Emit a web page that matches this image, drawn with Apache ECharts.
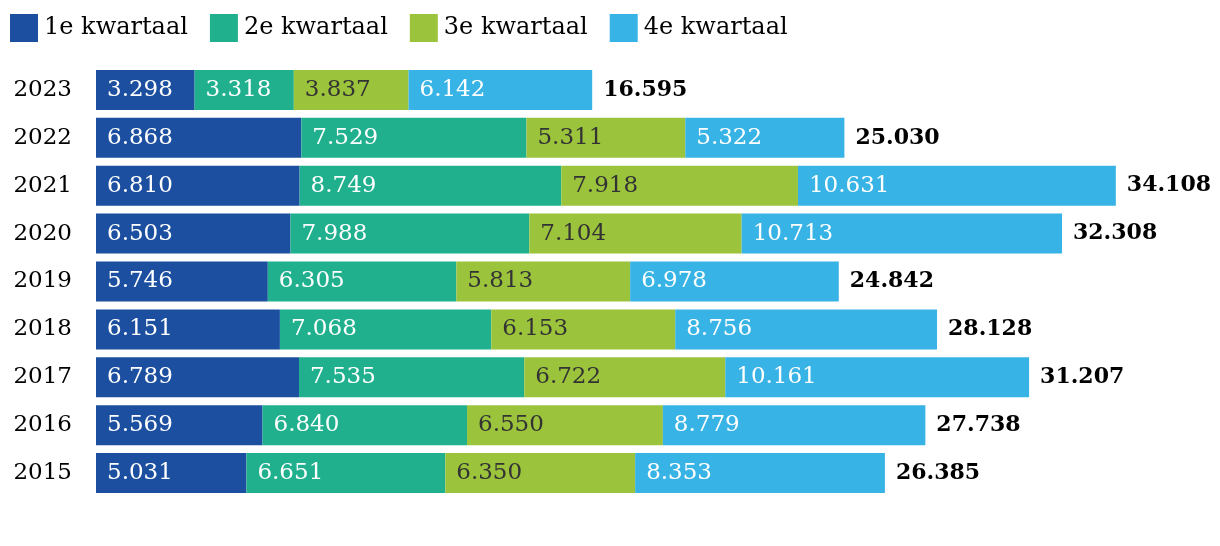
<!DOCTYPE html>
<html>
<head>
<meta charset="utf-8">
<script src="https://cdn.jsdelivr.net/npm/echarts@6/dist/echarts.min.js"></script>
<style>
html,body{margin:0;padding:0;background:#fff;}
#chart{width:1220px;height:546px;}
</style>
</head>
<body>
<div id="chart"></div>
<script>
const years = ['2015','2016','2017','2018','2019','2020','2021','2022','2023'];
const q1 = [5031, 5569, 6789, 6151, 5746, 6503, 6810, 6868, 3298];
const q2 = [6651, 6840, 7535, 7068, 6305, 7988, 8749, 7529, 3318];
const q3 = [6350, 6550, 6722, 6153, 5813, 7104, 7918, 5311, 3837];
const q4 = [8353, 8779, 10161, 8756, 6978, 10713, 10631, 5322, 6142];
const totals = [26385, 27738, 31207, 28128, 24842, 32308, 34108, 25030, 16595];
const seriesNames = ['1e kwartaal', '2e kwartaal', '3e kwartaal', '4e kwartaal'];
const colors = ['#1c4f9f', '#20b08e', '#9bc33c', '#38b3e5'];
const labelColors = ['#ffffff', '#ffffff', '#333333', '#ffffff'];

const FONT = 'DejaVu Serif';
const fmtDots = v => String(v).replace(/\B(?=(\d{3})+(?!\d))/g, '.');

const chart = echarts.init(document.getElementById('chart'));
const dataSets = [q1, q2, q3, q4];
const series = dataSets.map((d, i) => ({
  name: seriesNames[i],
  type: 'bar',
  stack: 'total',
  barWidth: 40,
  data: d,
  itemStyle: { color: colors[i] },
  label: {
    show: true,
    position: 'insideLeft',
    distance: 11,
    color: labelColors[i],
    fontFamily: FONT,
    fontSize: 23,
    formatter: p => fmtDots(p.value)
  },
  emphasis: { disabled: true }
}));
series.push({
  name: 'totaal',
  type: 'bar',
  stack: 'total',
  barWidth: 40,
  data: totals.map(() => 0),
  itemStyle: { color: 'transparent' },
  label: {
    show: true,
    position: 'right',
    distance: 11,
    color: '#000000',
    fontFamily: FONT,
    fontWeight: 'bold',
    fontSize: 22,
    formatter: p => fmtDots(totals[p.dataIndex])
  },
  emphasis: { disabled: true }
});

chart.setOption({
  animation: false,
  legend: {
    data: seriesNames,
    left: 5,
    top: 9,
    itemWidth: 28,
    itemHeight: 28,
    itemGap: 22,
    icon: 'rect',
    textStyle: { fontFamily: FONT, fontSize: 24, color: '#000000', padding: [0, 0, 0, 1] }
  },
  grid: { left: 96, top: 66, height: 431, width: 1076.4, containLabel: false },
  xAxis: {
    type: 'value',
    min: 0,
    max: 36000,
    show: false
  },
  yAxis: {
    type: 'category',
    data: years,
    axisLine: { show: false },
    axisTick: { show: false },
    axisLabel: { margin: 24, color: '#000000', fontFamily: FONT, fontSize: 23 }
  },
  series: series
});
</script>
</body>
</html>
